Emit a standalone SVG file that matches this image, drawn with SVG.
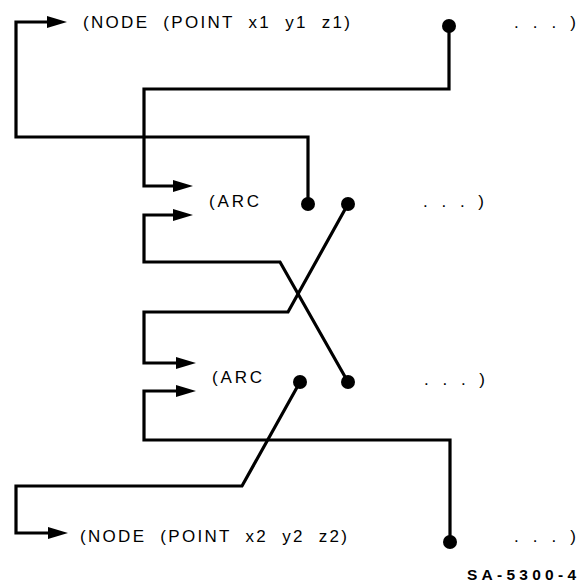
<svg xmlns="http://www.w3.org/2000/svg" width="577" height="585" viewBox="0 0 577 585">
  <defs>
    <marker id="arrow" markerUnits="userSpaceOnUse" viewBox="0 0 20 12" refX="10" refY="6" markerWidth="20" markerHeight="12" orient="auto">
      <path d="M0,0 L20,6 L0,12 Z" fill="#000"/>
    </marker>
    <style>
      .conn { fill: none; stroke: #000; stroke-width: 3.2; stroke-linejoin: miter; }
      .dot { fill: #000; }
      .lbl { font-family: "Liberation Sans", Arial, sans-serif; font-size: 17px; fill: #000; }
      .tag { font-family: "Liberation Sans", Arial, sans-serif; font-size: 15.5px; font-weight: bold; fill: #000; }
    </style>
  </defs>
  <rect width="577" height="585" fill="#fff"/>

  <g id="connectors">
    <path class="conn" d="M449,26 V89 H144 V186 H183" marker-end="url(#arrow)"/>
    <path class="conn" d="M308,204 V137 H16 V22 H57" marker-end="url(#arrow)"/>
    <path class="conn" d="M348,204 L288,312 H144 V363 H186" marker-end="url(#arrow)"/>
    <path class="conn" d="M348,382 L280,262 H144 V215 H183" marker-end="url(#arrow)"/>
    <path class="conn" d="M300,382 L242,486 H16 V533 H58" marker-end="url(#arrow)"/>
    <path class="conn" d="M450,542 V440 H144 V391 H186" marker-end="url(#arrow)"/>
  </g>

  <g id="node1">
    <text class="lbl" x="83" y="28" textLength="267" lengthAdjust="spacing" xml:space="preserve">(NODE  (POINT  x1  y1  z1)</text>
    <circle class="dot" cx="449" cy="26" r="7"/>
    <text class="lbl" x="514" y="28" textLength="62" lengthAdjust="spacing">. . . )</text>
  </g>

  <g id="arc1">
    <text class="lbl" x="209" y="207" textLength="50" lengthAdjust="spacing">(ARC</text>
    <circle class="dot" cx="308" cy="204" r="7"/>
    <circle class="dot" cx="348" cy="204" r="7"/>
    <text class="lbl" x="423" y="207" textLength="61" lengthAdjust="spacing">. . . )</text>
  </g>

  <g id="arc2">
    <text class="lbl" x="212" y="383" textLength="50" lengthAdjust="spacing">(ARC</text>
    <circle class="dot" cx="300" cy="382" r="7"/>
    <circle class="dot" cx="348" cy="382" r="7"/>
    <text class="lbl" x="424" y="385" textLength="61" lengthAdjust="spacing">. . . )</text>
  </g>

  <g id="node2">
    <text class="lbl" x="80" y="542" textLength="267" lengthAdjust="spacing" xml:space="preserve">(NODE  (POINT  x2  y2  z2)</text>
    <circle class="dot" cx="450" cy="542" r="7"/>
    <text class="lbl" x="514" y="542" textLength="62" lengthAdjust="spacing">. . . )</text>
  </g>

  <g id="caption">
    <text class="tag" x="467" y="580" textLength="109" lengthAdjust="spacing">SA-5300-4</text>
  </g>
</svg>
